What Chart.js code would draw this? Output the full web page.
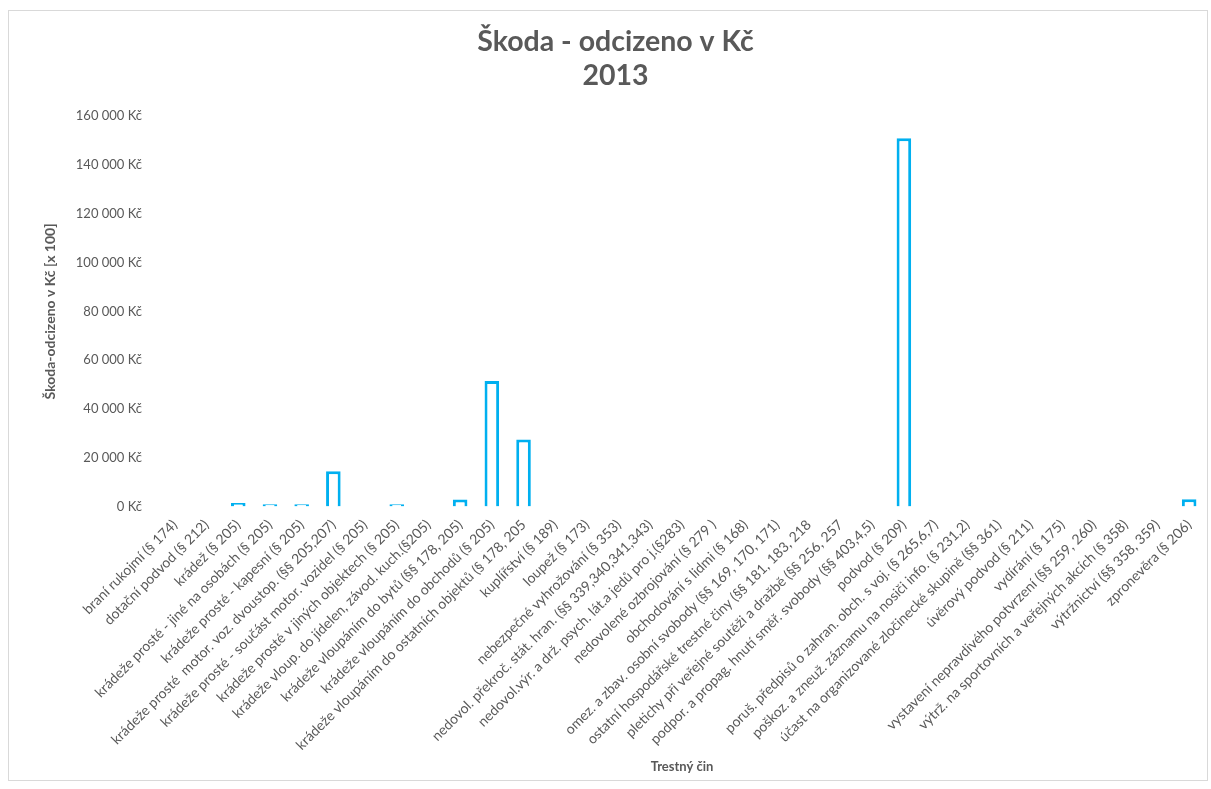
<!DOCTYPE html>
<html lang="cs">
<head>
<meta charset="utf-8">
<title>Škoda - odcizeno v Kč 2013</title>
<script src="https://cdn.jsdelivr.net/npm/chart.js@4/dist/chart.umd.min.js"></script>
<style>
  html, body { margin: 0; padding: 0; background: #fff; }
  #wrap { position: absolute; left: 0; top: 0; width: 1211px; height: 789px; }
</style>
</head>
<body>
<div id="wrap"><canvas id="chart"></canvas></div>
<script>
// Trestné činy (kategorie osy X)
const categories = [
  'braní rukojmí (§ 174)',
  'dotační podvod (§ 212)',
  'krádež (§ 205)',
  'krádeže prosté - jiné na osobách (§ 205)',
  'krádeže prosté - kapesní (§ 205)',
  'krádeže prosté  motor. voz. dvoustop. (§§ 205,207)',
  'krádeže prosté - součást motor. vozidel (§ 205)',
  'krádeže prosté v jiných objektech (§ 205)',
  'krádeže vloup. do jídelen, závod. kuch.(§205)',
  'krádeže vloupáním do bytů (§§ 178, 205)',
  'krádeže vloupáním do obchodů (§ 205)',
  'krádeže vloupáním do ostatních objektů (§ 178, 205',
  'kuplířství (§ 189)',
  'loupež (§ 173)',
  'nebezpečné vyhrožování (§ 353)',
  'nedovol. překroč. stát. hran. (§§ 339,340,341,343)',
  'nedovol.výr. a drž. psych. lát.a jedů pro j.(§283)',
  'nedovolené ozbrojování (§ 279 )',
  'obchodování s lidmi (§ 168)',
  'omez. a zbav. osobní svobody (§§ 169, 170, 171)',
  'ostatní hospodářské trestné činy (§§ 181, 183, 218',
  'pletichy při veřejné soutěži a dražbě (§§ 256, 257',
  'podpor. a propag. hnutí směř. svobody (§§ 403,4,5)',
  'podvod (§ 209)',
  'poruš. předpisů o zahran. obch. s voj. (§ 265,6,7)',
  'poškoz. a zneuž. záznamu na nosiči info. (§ 231,2)',
  'účast na organizované zločinecké skupině (§§ 361)',
  'úvěrový podvod (§ 211)',
  'vydírání (§ 175)',
  'vystavení nepravdivého potvrzení (§§ 259, 260)',
  'výtrž. na sportovních a veřejných akcích (§ 358)',
  'výtržnictví (§§ 358, 359)',
  'zpronevěra (§ 206)'
];

// Škoda - odcizeno v Kč [x 100]
const odcizeno = [
  0, 0, 1500, 1000, 1000, 14500, 0, 1000, 0, 2900, 51500, 27500,
  0, 0, 0, 0, 0, 0, 0, 0, 0, 0, 0,
  151000,
  0, 0, 0, 0, 0, 0, 0, 0,
  3000
];

const yTicksMax = 160000;
const yTicksStep = 20000;

const gray = '#595959';
const fontFamily = 'Lato, "Open Sans", sans-serif';

function kc(v) {
  return String(v).replace(/\B(?=(\d{3})+(?!\d))/g, ' ') + ' Kč';
}

// rámeček kolem celého grafu
const frame = {
  id: 'frame',
  beforeDraw(chart) {
    const ctx = chart.ctx;
    ctx.save();
    ctx.fillStyle = '#fff';
    ctx.fillRect(0, 0, chart.width, chart.height);
    ctx.strokeStyle = '#d9d9d9';
    ctx.lineWidth = 1;
    ctx.strokeRect(8.5, 10.5, 1199, 770);
    ctx.restore();
  }
};

new Chart(document.getElementById('chart'), {
  type: 'bar',
  data: {
    labels: categories,
    datasets: [{
      label: 'Škoda - odcizeno v Kč',
      data: odcizeno,
      backgroundColor: '#ffffff',
      borderColor: '#00b0f0',
      borderWidth: 3,
      barPercentage: 0.46,
      categoryPercentage: 1
    }]
  },
  options: {
    responsive: true,
    maintainAspectRatio: false,
    animation: false,
    layout: { padding: { left: 26, right: 6, top: 25, bottom: 14 } },
    plugins: {
      legend: { display: false },
      tooltip: { enabled: false },
      title: {
        display: true,
        text: ['Škoda - odcizeno v Kč', '2013'],
        color: gray,
        font: { family: fontFamily, size: 28.5, weight: 'bold', lineHeight: 1.18 },
        padding: { top: 0, bottom: 24 }
      }
    },
    scales: {
      x: {
        grid: { display: false },
        border: { display: false },
        ticks: {
          color: gray,
          font: { family: fontFamily, size: 14 },
          autoSkip: false,
          maxRotation: 45,
          minRotation: 45,
          padding: 2
        },
        title: {
          display: true,
          text: 'Trestný čin',
          color: gray,
          font: { family: fontFamily, size: 13, weight: 'bold' },
          padding: { top: 4, bottom: 0 }
        }
      },
      y: {
        min: 0,
        max: yTicksMax,
        grid: { display: false },
        border: { display: false },
        ticks: {
          stepSize: yTicksStep,
          color: gray,
          font: { family: fontFamily, size: 13 },
          padding: 9,
          callback: v => kc(v)
        },
        title: {
          display: true,
          text: 'Škoda-odcizeno v Kč [x 100]',
          color: gray,
          font: { family: fontFamily, size: 14, weight: 'bold' },
          padding: { top: 16, bottom: 8 }
        }
      }
    }
  },
  plugins: [frame]
});
</script>
</body>
</html>
